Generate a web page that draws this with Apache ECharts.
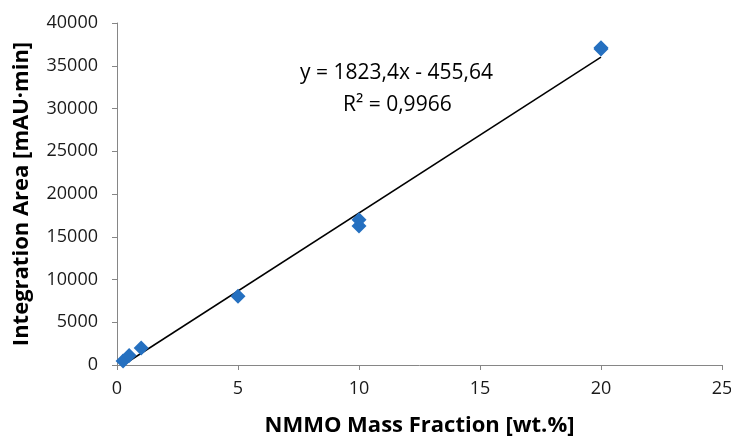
<!DOCTYPE html>
<html>
<head>
<meta charset="utf-8">
<script src="https://cdn.jsdelivr.net/npm/echarts@6/dist/echarts.min.js"></script>
<style>
  html, body { margin: 0; padding: 0; background: #fff; }
  #chart { width: 731px; height: 439px; }
</style>
</head>
<body>
<div id="chart"></div>
<script>
// Calibration measurements: NMMO mass fraction vs. integrated peak area
const massFraction = [0.25, 0.5, 1, 5, 10, 10, 20, 20];
const integrationArea = [480, 1120, 1980, 8050, 16250, 17000, 36950, 37100];

// Linear fit reported for the calibration
const fitCoefficients = [1823.4, -455.64]; // slope, intercept
const fitRSquared = 0.9966;

const xTicks = [0, 5, 10, 15, 20, 25];
const yTicks = [0, 5000, 10000, 15000, 20000, 25000, 30000, 35000, 40000];

const fmt = (v, d) => v.toFixed(d).replace('.', ',');

const xMinData = Math.min(...massFraction);
const xMaxData = Math.max(...massFraction);
const fitLine = [xMinData, xMaxData].map(x => [x, fitCoefficients[0] * x + fitCoefficients[1]]);

const axisColor = '#868686';
const textFont = '"Open Sans", "DejaVu Sans", sans-serif';

const chart = echarts.init(document.getElementById('chart'), null, { renderer: 'canvas' });
chart.setOption({
  animation: false,
  backgroundColor: '#ffffff',
  grid: { left: 117, right: 9, top: 23, bottom: 74, containLabel: false, outerBoundsMode: 'none' },
  xAxis: {
    type: 'value',
    min: xTicks[0],
    max: xTicks[xTicks.length - 1],
    interval: xTicks[1] - xTicks[0],
    name: 'NMMO Mass Fraction [wt.%]',
    nameLocation: 'middle',
    nameGap: 50,
    nameTextStyle: { fontFamily: textFont, fontSize: 22, fontWeight: 'bold', color: '#000' },
    axisLine: { show: true, onZero: false, lineStyle: { color: axisColor, width: 1 } },
    axisTick: { show: true, length: 5, lineStyle: { color: axisColor } },
    axisLabel: { fontFamily: textFont, fontSize: 18, color: '#1a1a1a', margin: 15, formatter: v => String(v) },
    splitLine: { show: false }
  },
  yAxis: {
    type: 'value',
    min: yTicks[0],
    max: yTicks[yTicks.length - 1],
    interval: yTicks[1] - yTicks[0],
    name: 'Integration Area [mAU·min]',
    nameLocation: 'middle',
    nameGap: 84,
    nameTextStyle: { fontFamily: textFont, fontSize: 22, fontWeight: 'bold', color: '#000' },
    axisLine: { show: true, onZero: false, lineStyle: { color: axisColor, width: 1 } },
    axisTick: { show: true, length: 5, lineStyle: { color: axisColor } },
    axisLabel: { fontFamily: textFont, fontSize: 18, color: '#1a1a1a', margin: 19, formatter: v => String(v) },
    splitLine: { show: false }
  },
  series: [
    {
      type: 'line',
      data: fitLine,
      symbol: 'none',
      lineStyle: { color: '#000', width: 1.5 },
      silent: true,
      z: 2
    },
    {
      type: 'scatter',
      data: massFraction.map((x, i) => [x, integrationArea[i]]),
      symbol: 'diamond',
      symbolSize: 15,
      itemStyle: { color: '#2570c0', opacity: 1 },
      z: 3
    }
  ],
  graphic: [
    {
      type: 'text',
      left: 300,
      top: 63,
      style: {
        text: 'y = ' + fmt(fitCoefficients[0], 1) + 'x - ' + fmt(Math.abs(fitCoefficients[1]), 2),
        font: '21px ' + textFont,
        fill: '#000'
      }
    },
    {
      type: 'text',
      left: 343,
      top: 95,
      style: {
        text: 'R² = ' + fmt(fitRSquared, 4),
        font: '21px ' + textFont,
        fill: '#000'
      }
    }
  ]
});
</script>
</body>
</html>
